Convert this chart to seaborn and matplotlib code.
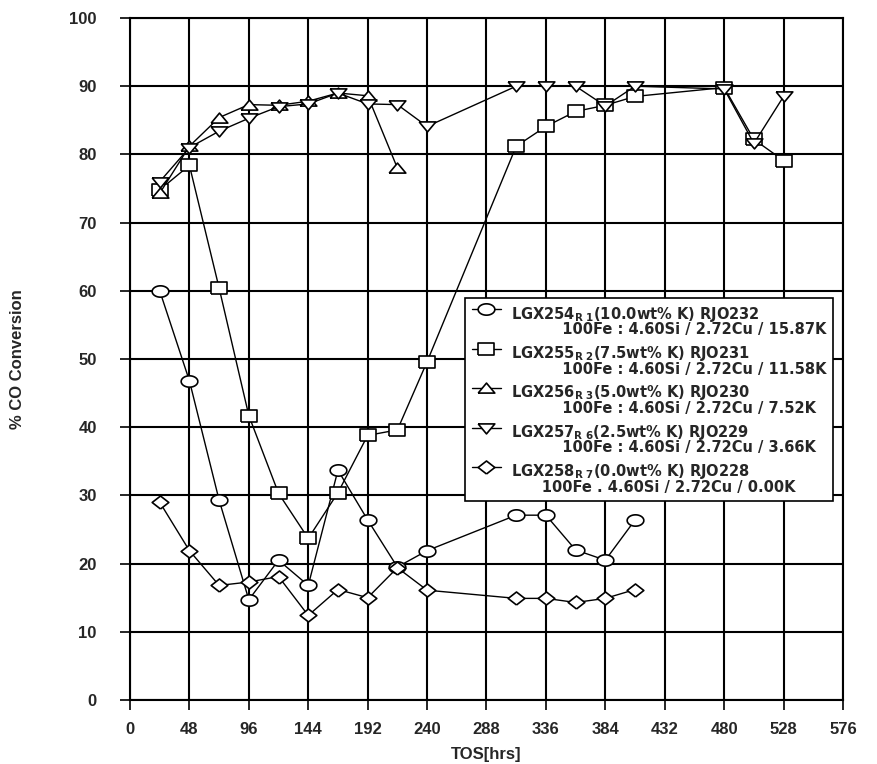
import numpy as np
import pandas as pd
import matplotlib
matplotlib.use("Agg")
import matplotlib.pyplot as plt
import seaborn as sns
from matplotlib.legend_handler import HandlerLine2D

# ---------------- data ----------------
tos_r1 = [24, 48, 72, 96, 120, 144, 168, 192, 216, 240, 312, 336, 360, 384, 408]
conv_r1 = [60.0, 46.8, 29.3, 14.7, 20.5, 16.8, 33.7, 26.4, 19.5, 21.9, 27.1, 27.1, 22.0, 20.5, 26.4]

tos_r2 = [24, 48, 72, 96, 120, 144, 168, 192, 216, 240, 312, 336, 360, 384, 408, 480, 504, 528]
conv_r2 = [74.8, 78.4, 60.4, 41.7, 30.3, 23.7, 30.4, 38.8, 39.6, 49.6, 81.2, 84.1, 86.3, 87.2, 88.5, 89.8, 82.2, 79.1]

tos_r3 = [24, 48, 72, 96, 120, 144, 168, 192, 216]
conv_r3 = [74.3, 81.2, 85.4, 87.3, 87.2, 87.8, 89.0, 88.6, 78.0]

tos_r6 = [24, 48, 72, 96, 120, 144, 168, 192, 216, 240, 312, 336, 360, 384, 408, 480, 504, 528]
conv_r6 = [76.0, 81.0, 83.4, 85.3, 87.0, 87.4, 89.0, 87.4, 87.3, 84.1, 90.0, 90.0, 90.0, 87.1, 90.0, 89.6, 81.6, 88.5]

tos_r7 = [24, 48, 72, 96, 120, 144, 168, 192, 216, 240, 312, 336, 360, 384, 408]
conv_r7 = [29.0, 21.9, 16.8, 17.3, 18.1, 12.4, 16.2, 15.0, 19.4, 16.1, 14.9, 14.9, 14.3, 14.9, 16.2]

labels_line1 = [
    r"LGX254$_{\mathrm{R\ 1}}$(10.0wt% K) RJO232",
    r"LGX255$_{\mathrm{R\ 2}}$(7.5wt% K) RJO231",
    r"LGX256$_{\mathrm{R\ 3}}$(5.0wt% K) RJO230",
    r"LGX257$_{\mathrm{R\ 6}}$(2.5wt% K) RJO229",
    r"LGX258$_{\mathrm{R\ 7}}$(0.0wt% K) RJO228",
]
labels_line2 = [
    "          100Fe : 4.60Si / 2.72Cu / 15.87K",
    "          100Fe : 4.60Si / 2.72Cu / 11.58K",
    "          100Fe : 4.60Si / 2.72Cu / 7.52K",
    "          100Fe : 4.60Si / 2.72Cu / 3.66K",
    "      100Fe . 4.60Si / 2.72Cu / 0.00K",
]

x_ticks = list(range(0, 577, 48))
y_ticks = list(range(0, 101, 10))

# ---------------- markers ----------------
t = np.linspace(0, 2 * np.pi, 64)
m_ellipse = list(zip(np.cos(t), 0.68 * np.sin(t)))
m_rect = [(-1, -0.72), (1, -0.72), (1, 0.72), (-1, 0.72), (-1, -0.72)]
m_tri_up = [(-1, -0.55), (1, -0.55), (0, 0.65), (-1, -0.55)]
m_tri_dn = [(-1, 0.55), (1, 0.55), (0, -0.65), (-1, 0.55)]
m_diam = [(0, -0.78), (1, 0), (0, 0.78), (-1, 0), (0, -0.78)]

series = [
    (tos_r1, conv_r1, m_ellipse),
    (tos_r2, conv_r2, m_rect),
    (tos_r3, conv_r3, m_tri_up),
    (tos_r6, conv_r6, m_tri_dn),
    (tos_r7, conv_r7, m_diam),
]

# ---------------- figure ----------------
sns.set_theme(style="white")
plt.rcParams["font.family"] = ["Liberation Sans", "DejaVu Sans"]
plt.rcParams["mathtext.fontset"] = "custom"
plt.rcParams["mathtext.rm"] = "DejaVu Sans:bold"
plt.rcParams["mathtext.it"] = "DejaVu Sans:bold"
plt.rcParams["mathtext.bf"] = "DejaVu Sans:bold"

fig = plt.figure(figsize=(8.78, 7.64), dpi=100)
ax = fig.add_axes([130 / 878, 64 / 764, 713 / 878, 682 / 764])

for i, (xs, ys, mk) in enumerate(series):
    df = pd.DataFrame({"TOS": xs, "conv": ys})
    sns.lineplot(data=df, x="TOS", y="conv", ax=ax, color="black", linewidth=1.0,
                 marker=mk, markersize=12, markerfacecolor="white",
                 markeredgecolor="black", markeredgewidth=1.2, zorder=3 + i,
                 label=labels_line1[i] + "\n" + labels_line2[i])

ax.set_xlim(0, 576)
ax.set_ylim(0, 100)
ax.set_xticks(x_ticks)
ax.set_yticks(y_ticks)
ax.set_xticklabels([str(v) for v in x_ticks], fontsize=12, fontweight="bold")
ax.set_yticklabels([str(v) for v in y_ticks], fontsize=12, fontweight="bold")
ax.tick_params(axis="both", direction="out", length=7, width=1.2, color="black",
               bottom=True, left=True)
ax.tick_params(axis="x", pad=9)
ax.tick_params(axis="y", pad=17)
ax.grid(True, color="black", linewidth=1.5)
ax.set_axisbelow(True)
for s in ax.spines.values():
    s.set_color("black")
    s.set_linewidth(1.5)

ax.set_xlabel("TOS[hrs]", fontsize=12, fontweight="bold", labelpad=7)
ax.set_ylabel("% CO Conversion", fontsize=12, fontweight="bold", labelpad=32)


class TopHandler(HandlerLine2D):
    def create_artists(self, legend, orig_handle, xdescent, ydescent, width,
                       height, fontsize, trans):
        arts = super().create_artists(legend, orig_handle, xdescent, ydescent,
                                      width, height, fontsize, trans)
        for a in arts:
            a.set_ydata(np.asarray(a.get_ydata(), dtype=float) + fontsize * 0.85)
        return arts


h, l = ax.get_legend_handles_labels()
leg = ax.legend(h, l, loc="upper left", bbox_to_anchor=(465 / 878, 1 - 298 / 764),
                bbox_transform=fig.transFigure, borderaxespad=0,
                prop={"family": "DejaVu Sans", "weight": "bold", "size": 10.5},
                frameon=True, fancybox=False,
                framealpha=1, edgecolor="black", handlelength=2.0,
                handletextpad=0.7, labelspacing=0.45, borderpad=0.45,
                handler_map={matplotlib.lines.Line2D: TopHandler()})
for txt in leg.get_texts():
    txt.set_linespacing(0.9)
leg.get_frame().set_linewidth(1.2)
leg.set_zorder(20)

fig.savefig("out.png", dpi=100)
